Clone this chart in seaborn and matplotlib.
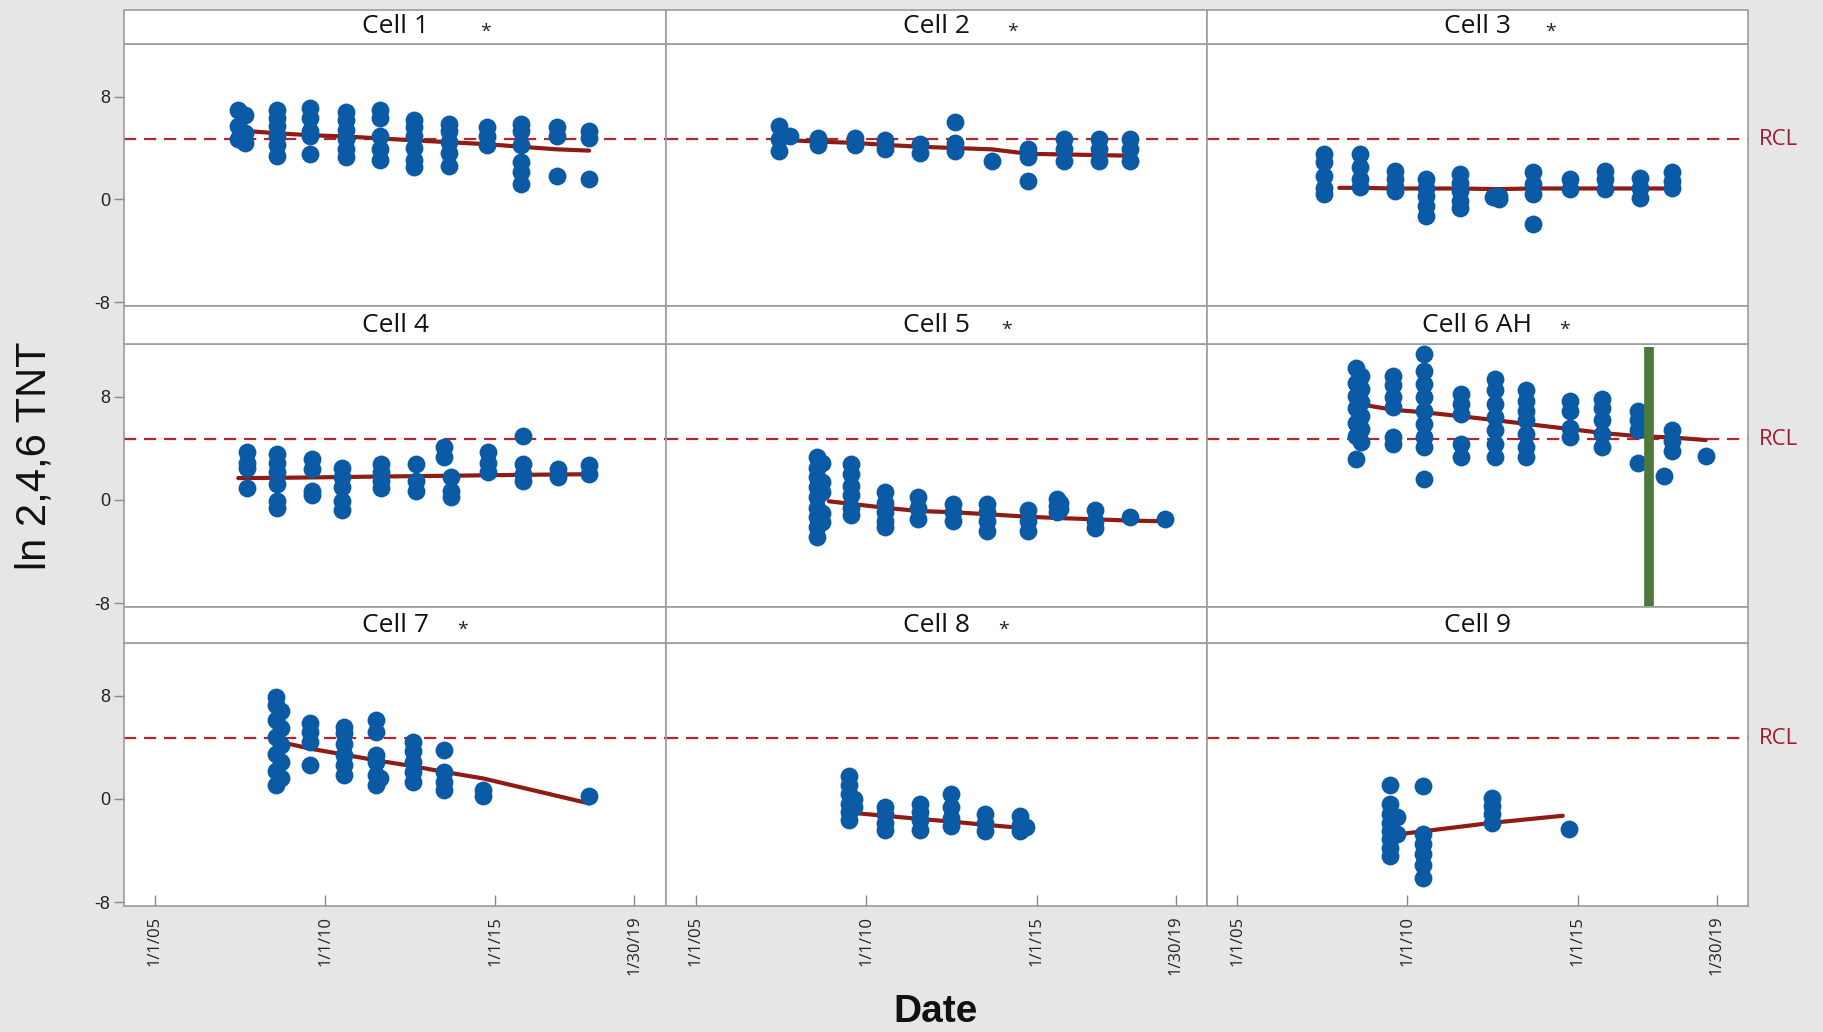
import numpy as np
import pandas as pd
import matplotlib
matplotlib.use("Agg")
import matplotlib.pyplot as plt
from matplotlib.patches import Rectangle
import seaborn as sns

# ---------------------------------------------------------------------------
# Data: sampling dates (decimal years), ln(2,4,6-TNT) readings per date and
# the fitted trend for every cell.
# ---------------------------------------------------------------------------
CELL1 = dict(
    dates=[2007.45, 2007.65, 2008.6, 2009.55, 2010.6, 2011.6, 2012.6, 2013.65,
           2014.75, 2015.75, 2016.8, 2017.75],
    values=[[7.0, 5.7, 4.7], [6.6, 5.2, 4.4], [7.0, 6.3, 5.7, 4.9, 4.2, 3.4],
            [7.1, 6.3, 5.3, 4.9, 3.5], [6.8, 6.2, 5.4, 4.7, 3.9, 3.3],
            [7.0, 6.3, 4.9, 3.9, 3.1], [6.2, 5.6, 4.9, 4.0, 3.1, 2.5],
            [5.9, 5.3, 4.5, 3.6, 2.6], [5.6, 4.9, 4.2],
            [5.9, 5.3, 4.2, 2.9, 2.1, 1.2], [5.6, 4.9, 1.8], [5.3, 4.8, 1.6]],
    fit_dates=[2007.8, 2008.6, 2009.55, 2010.6, 2011.6, 2012.6, 2013.65,
               2014.75, 2015.75, 2016.8, 2017.75],
    fit=[5.3, 5.15, 5.0, 4.9, 4.75, 4.6, 4.45, 4.3, 4.1, 3.9, 3.8],
)
CELL2 = dict(
    dates=[2007.45, 2007.75, 2008.58, 2009.66, 2010.54, 2011.57, 2012.6,
           2013.68, 2014.76, 2015.79, 2016.82, 2017.75],
    values=[[5.7, 4.7, 3.8], [4.9], [4.8, 4.2], [4.8, 4.2], [4.6, 3.9],
            [4.3, 3.65], [6.0, 4.4, 3.8], [3.0], [3.9, 3.3, 1.4],
            [4.7, 3.9, 3.0], [4.7, 3.9, 3.0], [4.7, 3.9, 3.0]],
    fit_dates=[2007.8, 2008.58, 2009.66, 2010.54, 2011.57, 2012.6, 2013.68,
               2014.76, 2015.79, 2016.82, 2017.75],
    fit=[4.6, 4.5, 4.4, 4.25, 4.1, 4.0, 3.9, 3.55, 3.5, 3.45, 3.4],
)
CELL3 = dict(
    dates=[2007.55, 2008.6, 2009.63, 2010.56, 2011.54, 2012.5, 2012.7,
           2013.7, 2014.78, 2015.81, 2016.84, 2017.77],
    values=[[3.5, 2.9, 1.8, 0.9, 0.4], [3.5, 2.5, 1.6, 1.0],
            [2.2, 1.6, 1.0, 0.65], [1.6, 0.9, 0.3, -0.5, -1.3],
            [1.95, 1.3, 0.65, -0.1, -0.65], [0.2], [0.0, 0.3],
            [2.1, 1.2, 0.4, -1.95], [1.6, 0.8], [2.2, 1.6, 0.8],
            [1.7, 0.9, 0.1], [2.1, 1.4, 0.9]],
    fit_dates=[2008.0, 2008.6, 2009.63, 2010.56, 2011.54, 2012.6, 2013.7,
               2014.78, 2015.81, 2016.84, 2017.77],
    fit=[0.9, 0.9, 0.85, 0.85, 0.85, 0.8, 0.85, 0.85, 0.85, 0.85, 0.85],
)
CELL4 = dict(
    dates=[2007.71, 2008.59, 2009.62, 2010.5, 2011.63, 2012.66, 2013.5,
           2013.69, 2014.77, 2015.8, 2016.83, 2017.76],
    values=[[3.7, 2.9, 2.5, 0.9], [3.6, 2.9, 2.15, 1.25, -0.05, -0.6],
            [3.2, 2.4, 0.7, 0.35], [2.5, 1.8, 1.0, -0.05, -0.8],
            [2.8, 2.15, 1.5, 0.9], [2.8, 1.5, 0.7], [4.1, 3.3],
            [1.8, 0.7, 0.2], [3.7, 2.9, 2.15], [5.0, 2.8, 2.0, 1.5],
            [2.4, 1.8], [2.7, 2.0]],
    fit_dates=[2007.45, 2008.59, 2009.62, 2010.5, 2011.63, 2012.66, 2013.69,
               2014.77, 2015.8, 2016.83, 2017.76],
    fit=[1.7, 1.72, 1.75, 1.78, 1.82, 1.85, 1.88, 1.92, 1.95, 1.98, 2.0],
)
CELL5 = dict(
    dates=[2008.55, 2008.7, 2009.56, 2010.54, 2011.52, 2012.55, 2013.53,
           2014.76, 2015.6, 2015.7, 2016.72, 2017.75, 2018.78],
    values=[[3.3, 2.5, 1.8, 1.0, 0.2, -0.6, -1.3, -2.1, -2.9],
            [2.9, 1.4, 0.6, -1.0, -1.7], [2.8, 2.0, 1.1, 0.35, -0.6, -1.2],
            [0.6, -0.2, -0.95, -1.6, -2.1], [0.2, -0.6, -1.5],
            [-0.3, -0.95, -1.6], [-0.3, -0.95, -1.6, -2.4],
            [-0.8, -1.6, -2.4], [0.1, -0.45, -0.95], [-0.2, -0.7],
            [-0.8, -1.6, -2.2], [-1.35], [-1.5]],
    fit_dates=[2008.9, 2009.56, 2010.54, 2011.52, 2012.55, 2013.53, 2014.76,
               2015.65, 2016.72, 2017.75, 2018.78],
    fit=[-0.1, -0.3, -0.6, -0.85, -0.95, -1.1, -1.3, -1.4, -1.5, -1.6, -1.65],
)
CELL6 = dict(
    dates=[2008.5, 2008.65, 2009.57, 2010.5, 2011.56, 2012.56, 2013.49,
           2014.78, 2015.72, 2016.77, 2017.53, 2017.77, 2018.76],
    values=[[10.2, 9.1, 8.1, 7.1, 6.0, 5.0, 3.2], [9.6, 8.6, 7.6, 6.5, 5.5, 4.5],
            [9.6, 8.9, 8.0, 7.2, 4.9, 4.35],
            [11.3, 10.0, 9.0, 8.0, 6.9, 5.9, 4.9, 4.1, 1.6],
            [8.2, 7.45, 6.7, 4.35, 3.3], [9.4, 8.5, 7.45, 6.4, 5.4, 4.35, 3.3],
            [8.5, 7.7, 6.9, 6.2, 5.1, 4.1, 3.3], [7.7, 6.9, 5.6, 4.9],
            [7.8, 7.1, 6.2, 5.1, 4.1], [6.9, 6.2, 5.4, 2.9], [1.9],
            [5.4, 4.6, 3.8], [3.4]],
    fit_dates=[2008.9, 2009.57, 2010.5, 2011.56, 2012.56, 2013.49, 2014.78,
               2015.72, 2016.77, 2017.77, 2018.76],
    fit=[7.3, 7.0, 6.8, 6.5, 6.2, 5.9, 5.5, 5.2, 4.95, 4.85, 4.65],
)
CELL7 = dict(
    dates=[2008.55, 2008.7, 2009.57, 2010.55, 2011.49, 2011.6, 2012.57,
           2013.5, 2014.63, 2017.76],
    values=[[7.9, 7.3, 6.1, 4.8, 3.5, 2.2, 1.1], [6.8, 5.5, 4.2, 2.9, 1.6],
            [5.9, 5.2, 4.4, 2.6], [5.6, 5.1, 4.3, 3.4, 2.6, 1.9],
            [6.1, 5.2, 3.4, 2.9, 1.9, 1.1], [1.6], [4.4, 3.7, 2.9, 2.1, 1.3],
            [3.8, 2.1, 1.3, 0.7], [0.7, 0.2], [0.2]],
    fit_dates=[2008.9, 2009.57, 2010.55, 2011.49, 2012.57, 2013.5, 2014.63,
               2017.76],
    fit=[4.3, 3.9, 3.45, 3.0, 2.55, 2.1, 1.6, -0.35],
)
CELL8 = dict(
    dates=[2009.5, 2009.65, 2010.54, 2011.57, 2012.5, 2013.48, 2014.51, 2014.7],
    values=[[1.75, 1.1, 0.35, -0.35, -1.0, -1.6], [0.0, -0.6],
            [-0.6, -1.2, -1.9, -2.4], [-0.35, -1.0, -1.6, -2.4],
            [0.35, -0.6, -1.5, -2.1], [-1.2, -1.9, -2.5], [-1.35, -2.0, -2.5],
            [-2.2]],
    fit_dates=[2009.7, 2010.54, 2011.57, 2012.5, 2013.48, 2014.6],
    fit=[-1.1, -1.3, -1.55, -1.75, -2.0, -2.25],
)
CELL9 = dict(
    dates=[2009.5, 2009.7, 2010.47, 2012.48, 2014.75],
    values=[[1.1, -0.4, -1.2, -1.85, -2.5, -3.1, -3.8, -4.4], [-1.4, -2.7],
            [1.0, -2.75, -3.5, -4.3, -5.1, -6.1], [0.1, -0.55, -1.2, -1.85],
            [-2.35]],
    fit_dates=[2009.7, 2010.47, 2012.48, 2014.56],
    fit=[-2.75, -2.5, -1.85, -1.3],
)

CELLS = [CELL1, CELL2, CELL3, CELL4, CELL5, CELL6, CELL7, CELL8, CELL9]
PANEL_TITLES = ["Cell 1", "Cell 2", "Cell 3", "Cell 4", "Cell 5",
                "Cell 6 AH", "Cell 7", "Cell 8", "Cell 9"]
FLAGGED = [True, True, True, False, True, True, True, True, False]

RCL = 4.7                       # remedial cleanup level (ln scale)
SHUTDOWN_DATE = 2017.1          # marker bar drawn in Cell 6 AH
SHUTDOWN_RANGE = (-8.2, 11.9)

TICK_DATES = ["2005-01-01", "2010-01-01", "2015-01-01", "2019-01-30"]
TICK_LABELS = ["1/1/05", "1/1/10", "1/1/15", "1/30/19"]
Y_TICKS = [-8, 0, 8]

# ---------------------------------------------------------------------------
# Styling / layout
# ---------------------------------------------------------------------------
BLUE = "#0a5aa6"
TREND_RED = "#8e1b14"
RCL_RED = "#b3262e"
RCL_TEXT = "#a01c30"
GREEN = "#4d7a3c"
FRAME = "#9c9c9c"
BG = "#e6e6e6"

W, H = 1824, 1032
COL_LEFT = [124.5, 665.7, 1206.8]
COL_W = 541.2
ROWS = [(9.6, 44.0, 306.0), (306.0, 344.0, 607.0), (607.0, 643.0, 906.0)]
FLAG_OFFSET = [90, 76, 73, 0, 70, 87, 67, 67, 0]
XLIM = (2004.11, 2020.0)
YLIM = (-8.3, 12.1)

sns.set_theme(style="white")
plt.rcParams["font.family"] = ["Open Sans", "DejaVu Sans"]


def decimal_year(s):
    ts = pd.Timestamp(s)
    return ts.year + (ts.dayofyear - 1) / 365.25


tick_pos = [decimal_year(s) for s in TICK_DATES]

records = []
for title, cell in zip(PANEL_TITLES, CELLS):
    for d, vals in zip(cell["dates"], cell["values"]):
        for v in vals:
            records.append((title, d, v))
df = pd.DataFrame(records, columns=["cell", "date", "value"])

g = sns.FacetGrid(df, col="cell", col_wrap=3, col_order=PANEL_TITLES,
                  sharex=True, sharey=True, height=3, aspect=2, despine=False)
g.map_dataframe(sns.scatterplot, x="date", y="value", color=BLUE, s=165,
                linewidth=0, zorder=4)
g.set_titles(template="")
g.set_axis_labels("", "")

fig = g.figure
fig.set_size_inches(W / 100, H / 100)
fig.set_dpi(100)
fig.patch.set_facecolor(BG)

for i, (ax, title, cell) in enumerate(zip(g.axes.flat, PANEL_TITLES, CELLS)):
    r, c = divmod(i, 3)
    top_h, top_p, bot_p = ROWS[r]
    left = COL_LEFT[c]

    ax.set_position([left / W, 1 - bot_p / H, COL_W / W, (bot_p - top_p) / H])
    ax.set_facecolor("white")
    ax.set_xlim(*XLIM)
    ax.set_ylim(*YLIM)
    for sp in ax.spines.values():
        sp.set_color(FRAME)
        sp.set_linewidth(1.2)

    # reference level and fitted trend
    ax.axhline(RCL, color=RCL_RED, lw=1.6, dashes=(5.5, 3.5), zorder=1)
    sns.lineplot(x=cell["fit_dates"], y=cell["fit"], ax=ax, color=TREND_RED,
                 lw=3.0, zorder=2, estimator=None)

    if title == "Cell 6 AH":
        ax.vlines(SHUTDOWN_DATE, *SHUTDOWN_RANGE, color=GREEN, lw=7,
                  zorder=5)

    # ticks
    ax.set_yticks(Y_TICKS)
    ax.set_xticks(tick_pos)
    if c == 0:
        ax.tick_params(axis="y", left=True, direction="out", length=7,
                       width=1, color="#8a8a8a", pad=3, labelsize=13,
                       labelleft=True, labelcolor="#222222")
        ax.set_yticklabels([str(t) for t in Y_TICKS],
                           family=["Liberation Sans", "DejaVu Sans"])
    else:
        ax.tick_params(axis="y", left=False, labelleft=False)
    if r == 2:
        ax.tick_params(axis="x", bottom=True, direction="in", length=8,
                       width=1, color="#8a8a8a", pad=7, labelsize=12,
                       labelbottom=True, labelcolor="#222222")
        ax.set_xticklabels(TICK_LABELS, rotation=90, va="top", ha="center")
    else:
        ax.tick_params(axis="x", bottom=False, labelbottom=False)
    ax.grid(False)

    # header strip
    fig.add_artist(Rectangle((left / W, 1 - top_p / H), COL_W / W,
                             (top_p - top_h) / H, transform=fig.transFigure,
                             facecolor="white", edgecolor=FRAME, lw=1.2,
                             zorder=3))
    cx = (left + COL_W / 2) / W
    cy = 1 - (top_h + top_p) / 2 / H
    fig.text(cx, cy, title, ha="center", va="center", fontsize=19,
             color="#111111", zorder=4)
    if FLAGGED[i]:
        fig.text(cx + FLAG_OFFSET[i] / W, cy - 5 / H, "*", ha="center",
                 va="center", fontsize=14, color="#222222", zorder=4)

    if c == 2:
        ax.annotate("RCL", xy=(1, RCL), xycoords=("axes fraction", "data"),
                    xytext=(8, 0), textcoords="offset points", ha="left",
                    va="center", fontsize=16, color=RCL_TEXT,
                    annotation_clip=False)

fig.text(35 / W, 1 - 456 / H, "ln 2,4,6 TNT", rotation=90, ha="center",
         va="center", fontsize=30, color="#111111",
         family=["Liberation Sans", "DejaVu Sans"])
fig.text(936 / W, 1 - 1022 / H, "Date", ha="center", va="baseline",
         fontsize=28, fontweight="bold", color="#111111",
         family=["Liberation Sans Narrow", "Liberation Sans", "DejaVu Sans"])

fig.savefig("out.png", dpi=100, facecolor=BG)
